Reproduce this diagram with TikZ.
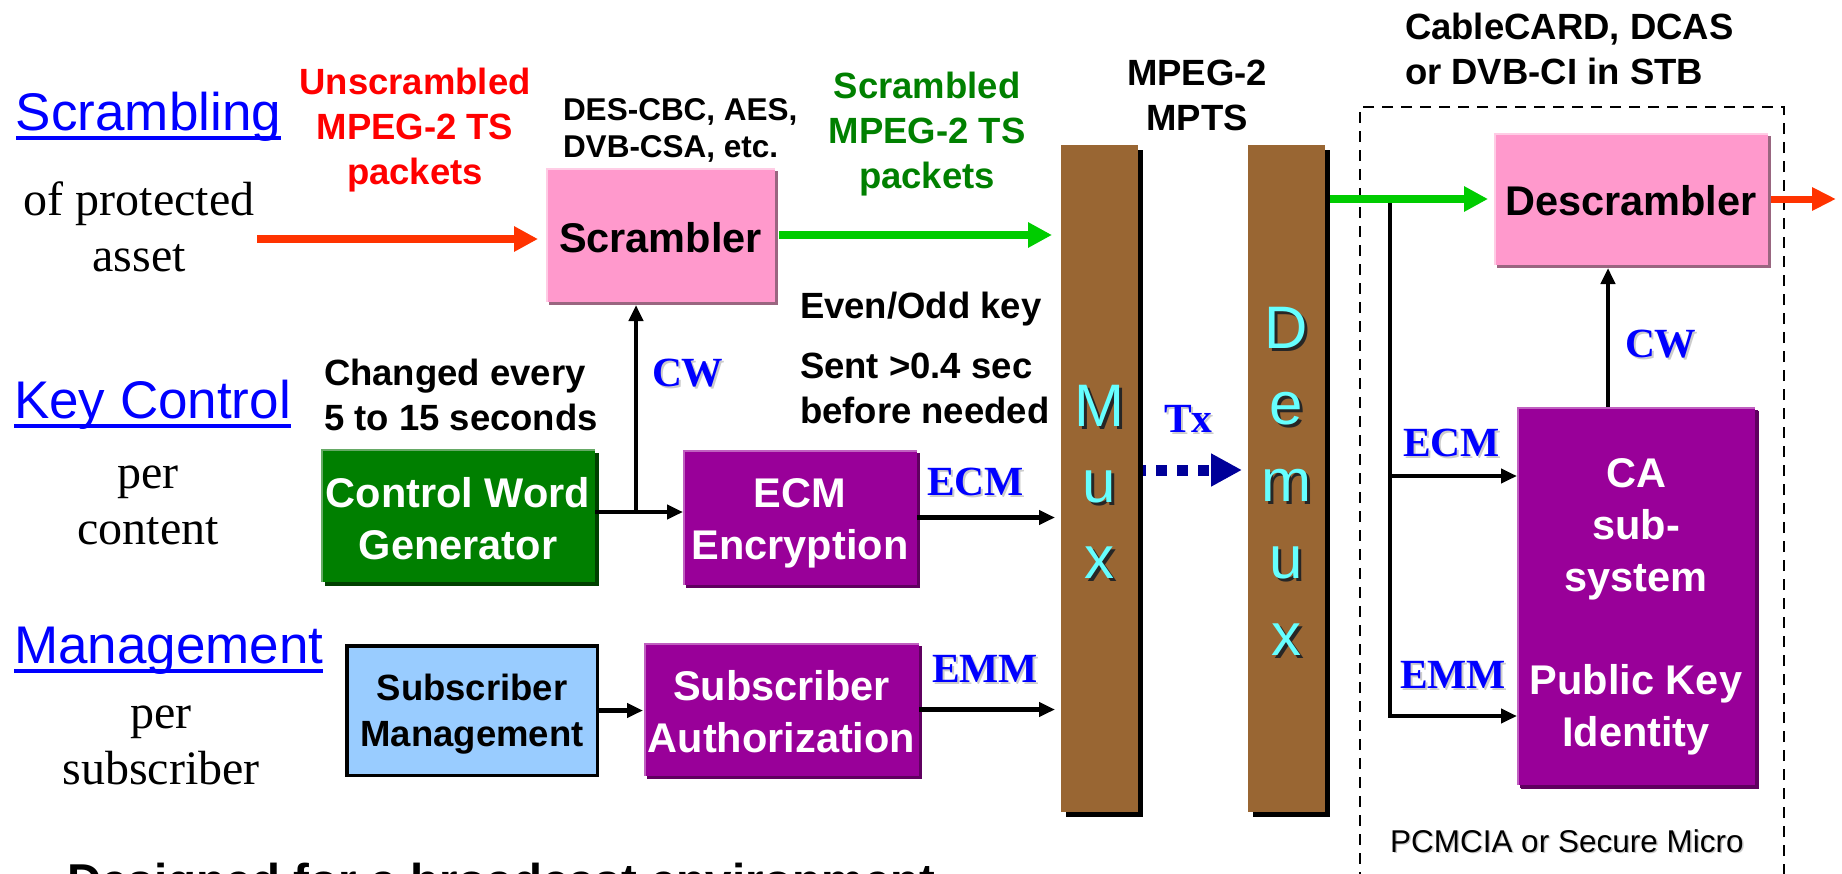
\documentclass[tikz,border=0pt]{standalone}
\usepackage{fontspec}
\newfontfamily\sansfnt{Liberation Sans}
\newfontfamily\romanfnt{Liberation Serif}
\usetikzlibrary{arrows.meta,shadows}

% colours
\definecolor{titleblue}{HTML}{0000FF}
\definecolor{lblblue}{HTML}{0000FF}
\definecolor{txtred}{HTML}{FF0000}
\definecolor{txtgreen}{HTML}{008000}
\definecolor{pinkfill}{HTML}{FF99CC}
\definecolor{pinklite}{HTML}{FFCCE5}
\definecolor{pinkdark}{HTML}{996680}
\definecolor{greenfill}{HTML}{007F00}
\definecolor{greenlite}{HTML}{66AA66}
\definecolor{greendark}{HTML}{004000}
\definecolor{purplefill}{HTML}{990099}
\definecolor{purplelite}{HTML}{C060C0}
\definecolor{purpledark}{HTML}{600060}
\definecolor{skyfill}{HTML}{99CCFF}
\definecolor{barbrown}{HTML}{996633}
\definecolor{letcyan}{HTML}{66FFFF}
\definecolor{navyblue}{HTML}{000099}
\definecolor{hotred}{HTML}{FF3300}
\definecolor{brightgreen}{HTML}{00CC00}

% centred / left-aligned stacks of lines; baseline = first line
\newcommand\cstack[1]{\vtop{\halign{\hfil##\hfil\cr#1\crcr}}}
\newcommand\lstack[1]{\vtop{\halign{##\hfil\cr#1\crcr}}}
% text with an offset shadow copy behind it
\newcommand\shadowed[3][2pt]{\rlap{\kern#1\raisebox{-#1}{\color{#2}#3}}#3}
\newcommand\mlet[1]{\shadowed[3pt]{black!85}{#1}}

\tikzset{
  every node/.style={inner sep=0pt, outer sep=0pt},
  titlelbl/.style={anchor=base west, text=titleblue, font=\sansfnt\fontsize{53}{60}\selectfont},
  ul/.style={titleblue, line width=4pt},
  sublbl/.style={anchor=base, font=\romanfnt\fontsize{48}{56.5}\selectfont},
  note/.style={font=\sansfnt\bfseries\fontsize{36.5}{45}\selectfont},
  bluelbl/.style={anchor=base west, text=lblblue, font=\romanfnt\bfseries\fontsize{41.5}{48}\selectfont},
  blkfont/.style={font=\sansfnt\bfseries\fontsize{41.5}{52}\selectfont},
  hilite/.style={path picture={\draw[#1, line width=4pt]
      (path picture bounding box.south west) -- (path picture bounding box.north west)
      -- (path picture bounding box.north east);}},
  pinkbox/.style={fill=pinkfill, text=black, blkfont, hilite=pinklite,
      drop shadow={shadow xshift=3pt, shadow yshift=-3pt, fill=pinkdark, opacity=1}},
  greenbox/.style={fill=greenfill, text=white, blkfont, hilite=greenlite,
      drop shadow={shadow xshift=4pt, shadow yshift=-4pt, fill=greendark, opacity=1}},
  purplebox/.style={fill=purplefill, text=white, blkfont, hilite=purplelite,
      drop shadow={shadow xshift=3pt, shadow yshift=-3pt, fill=purpledark, opacity=1}},
  bar/.style={fill=barbrown, text=letcyan, minimum width=77pt, minimum height=667pt,
      font=\sansfnt\fontsize{60}{76}\selectfont,
      drop shadow={shadow xshift=5pt, shadow yshift=-5pt, fill=black, opacity=1}},
  conn/.style={line width=4.5pt, -{Triangle[length=16pt,width=14pt]}},
  fat/.style={line width=8pt, -{Triangle[length=24pt,width=24pt]}},
}

\begin{document}
\begin{tikzpicture}[x=1pt,y=-1pt]
\useasboundingbox (0,0) rectangle (1842,873);
\clip (0,0) rectangle (1842,873);
\fill[white] (0,0) rectangle (1842,873);

% set-top box frame (open towards the bottom edge)
\node[draw, dash pattern=on 11pt off 8pt, line width=2.5pt,
      minimum width=424pt, minimum height=800pt] (stb) at (1572,507) {};

% row titles
\node[titlelbl] (tScr) at (16,130) {Scrambling};
\draw[ul] ([yshift=-7.5pt]tScr.base west) -- ([yshift=-7.5pt]tScr.base east);
\node[titlelbl] (tKey) at (14,418) {Key Control};
\draw[ul] ([yshift=-7.5pt]tKey.base west) -- ([yshift=-7.5pt]tKey.base east);
\node[titlelbl] (tMgt) at (14,663) {Management};
\draw[ul] ([yshift=-7.5pt]tMgt.base west) -- ([yshift=-7.5pt]tMgt.base east);

\node[sublbl] (sScr) at (139,215) {\cstack{of protected\cr asset}};
\node[sublbl] (sKey) at (148,488) {\cstack{per\cr content}};
\node[sublbl] (sMgt) at (161,728) {\cstack{per\cr subscriber}};

% annotations
\node[note, text=txtred, anchor=base] (unscr) at (415,94) {\cstack{Unscrambled\cr MPEG-2 TS\cr packets}};
\node[note, text=txtgreen, anchor=base] (scrd) at (927,98) {\cstack{Scrambled\cr MPEG-2 TS\cr packets}};
\node[font=\sansfnt\bfseries\fontsize{31.5}{37}\selectfont, anchor=base west] (algs) at (563,120) {\lstack{DES-CBC, AES,\cr DVB-CSA, etc.}};
\node[note, anchor=base] (mpts) at (1197,85) {\cstack{MPEG-2\cr MPTS}};
\node[note, anchor=base west] (stbl) at (1405,39) {\lstack{CableCARD, DCAS\cr or DVB-CI in STB}};
\node[note, anchor=base west] (evod) at (800,318) {Even/Odd key};
\node[note, anchor=base west] (sent) at (800,378) {\lstack{Sent >0.4 sec\cr before needed}};
\node[note, anchor=base west] (chg) at (324,385) {\lstack{Changed every\cr 5 to 15 seconds}};

% processing blocks
\node[pinkbox, minimum width=229pt, minimum height=134pt, text height=34pt, text depth=0pt] (scr) at (660.5,235) {\cstack{Scrambler}};
\node[pinkbox, minimum width=274pt, minimum height=132pt, text height=32pt, text depth=0pt] (desc) at (1631,199) {\cstack{Descrambler}};
\node[greenbox, minimum width=274pt, minimum height=133pt, text height=0pt, text depth=17pt] (cwg) at (458,515.5) {\cstack{Control Word\cr Generator}};
\node[purplebox, minimum width=234pt, minimum height=135pt, text height=0pt, text depth=21pt] (ecm) at (800,517.5) {\cstack{ECM\cr Encryption}};
\node[draw, line width=3.5pt, fill=skyfill, font=\sansfnt\bfseries\fontsize{36.5}{46}\selectfont,
      minimum width=250.5pt, minimum height=129.5pt, text height=0pt, text depth=21pt] (smg) at (472,710.5) {\cstack{Subscriber\cr Management}};
\node[purplebox, minimum width=275pt, minimum height=133pt, text height=0pt, text depth=19pt] (sau) at (781.5,709.5) {\cstack{Subscriber\cr Authorization}};
\node[purplebox, drop shadow={shadow xshift=4pt, shadow yshift=-4pt, fill=purpledark, opacity=1},
      minimum width=238pt, minimum height=378pt, text height=0pt, text depth=218pt] (ca) at (1636,596)
      {\cstack{CA\cr sub-\cr system\cr\noalign{\vskip51pt}Public Key\cr Identity}};

% multiplexer / demultiplexer bars
\node[bar, text height=0pt, text depth=105pt] (mux) at (1099.5,478.5) {\cstack{\mlet{M}\cr\mlet{u}\cr\mlet{x}}};
\node[bar, font=\sansfnt\fontsize{60}{76.75}\selectfont, text height=0pt, text depth=261pt] (demux) at (1286.5,478.5)
      {\cstack{\mlet{D}\cr\mlet{e}\cr\mlet{m}\cr\mlet{u}\cr\mlet{x}}};

% message labels
\node[bluelbl] (lcw1) at (652,386) {\shadowed{gray!40}{CW}};
\node[bluelbl] (lecm1) at (927,495) {\shadowed{gray!40}{ECM}};
\node[bluelbl] (lemm1) at (932,682) {\shadowed{gray!40}{EMM}};
\node[bluelbl] (ltx) at (1164,432) {\shadowed{gray!40}{Tx}};
\node[bluelbl] (lecm2) at (1403,456) {\shadowed{gray!40}{ECM}};
\node[bluelbl] (lemm2) at (1400,688) {\shadowed{gray!40}{EMM}};
\node[bluelbl] (lcw2) at (1625,357) {\shadowed{gray!40}{CW}};

\node[anchor=base west, font=\sansfnt\fontsize{31.5}{36}\selectfont] (pcm) at (1390,852)
      {\shadowed[1.5pt]{gray!40}{PCMCIA or Secure Micro}};
\node[anchor=base west, font=\sansfnt\bfseries\fontsize{47.5}{56}\selectfont] (bnote) at (67,897)
      {Designed for a broadcast environment};

% transport stream path
\coordinate (src) at (257,239);
\draw[fat, hotred, shorten >=8pt] (src) -- (src -| scr.west);
\draw[fat, brightgreen, shorten <=4pt, shorten >=9pt] (scr.east) -- (scr.east -| mux.west);

% demux branch feeding the CA subsystem
\coordinate (tap) at (1390,199);
\coordinate (ecmj) at (1390,476);
\coordinate (emmj) at (1390,716);
\draw[conn, line join=miter] (tap) -- (emmj) -- (emmj -| ca.west);
\draw[conn] (ecmj) -- (ecmj -| ca.west);
\coordinate (cwx) at (1608,0);
\draw[conn, shorten >=3pt] (cwx |- ca.north) -- (cwx |- desc.south);

\draw[fat, brightgreen, shorten <=5pt, shorten >=6pt] (demux.east |- desc.west) -- (desc.west);
\coordinate (out) at (1836,199);
\draw[line width=7pt, hotred, -{Triangle[length=24pt,width=22pt]}, shorten <=3pt] (desc.east) -- (out);

% key control path
\coordinate (cwj) at (636,512);
\draw[conn] (cwg.east |- cwj) -- (cwj -| ecm.west);
\draw[conn, shorten >=3pt] (cwj) -- (cwj |- scr.south);
\draw[conn, shorten >=6pt] (ecm.east) -- (ecm.east -| mux.west);

% management path
\draw[conn, shorten >=1pt] (smg.east) -- (smg.east -| sau.west);
\draw[conn, shorten >=6pt] (sau.east) -- (sau.east -| mux.west);

% transmission
\draw[navyblue, line width=11pt, dash pattern=on 11pt off 10pt, dash phase=8pt,
      -{Triangle[length=31pt,width=31pt]}, shorten <=5pt, shorten >=6pt]
      ([yshift=8.5pt]mux.east) -- ([yshift=8.5pt]mux.east -| demux.west);
\end{tikzpicture}
\end{document}
